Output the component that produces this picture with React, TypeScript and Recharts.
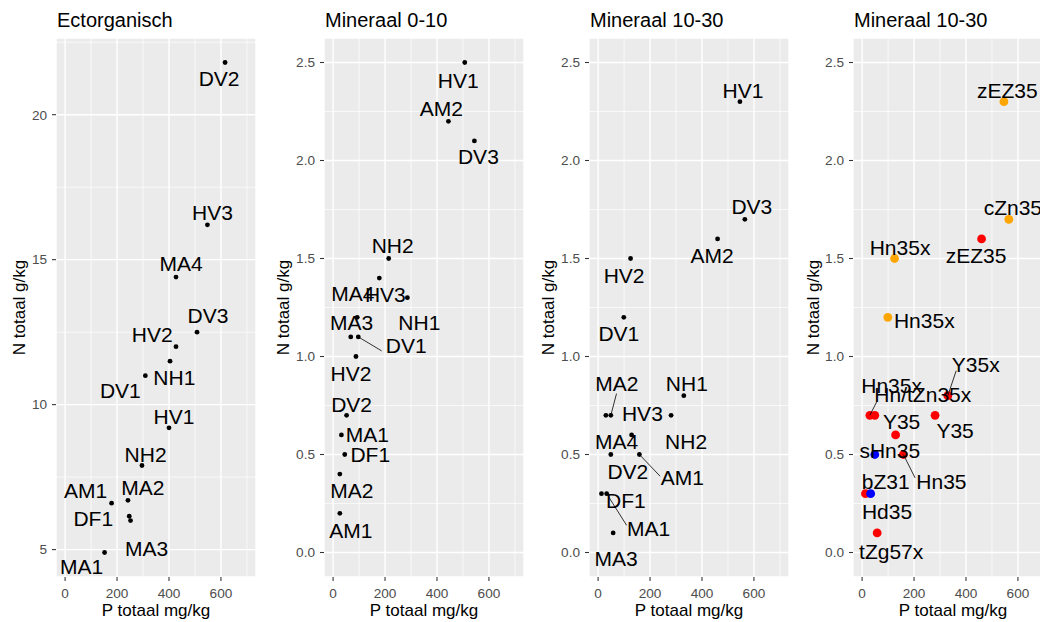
import React from 'react';
import { ScatterChart, Scatter, XAxis, YAxis, CartesianGrid, ReferenceLine } from 'recharts';

const FONT = '"Liberation Sans", Arial, sans-serif';

// Ectorganisch
const sites1 = ['DV2', 'HV3', 'MA4', 'DV3', 'HV2', 'NH1', 'DV1', 'HV1', 'NH2', 'AM1', 'MA2', 'DF1', 'MA3', 'MA1'];
const pTot1 = [616, 548, 427, 508, 427, 404, 309, 400, 296, 179, 242, 247, 252, 152];
const nTot1 = [21.8, 16.2, 14.4, 12.5, 12.0, 11.5, 11.0, 9.2, 7.9, 6.6, 6.7, 6.15, 6.0, 4.9];

// Mineraal 0-10
const sites2 = ['HV1', 'AM2', 'DV3', 'NH2', 'HV3', 'NH1', 'MA3', 'MA4', 'DV1', 'HV2', 'DV2', 'MA1', 'DF1', 'MA2', 'AM1'];
const pTot2 = [507, 444, 544, 214, 178, 286, 93, 68, 97, 88, 52, 32, 45, 26, 26];
const nTot2 = [2.5, 2.2, 2.1, 1.5, 1.4, 1.3, 1.2, 1.1, 1.1, 1.0, 0.7, 0.6, 0.5, 0.4, 0.2];

// Mineraal 10-30 (the last two panels show the same samples)
const sites3 = ['HV1', 'DV3', 'AM2', 'HV2', 'DV1', 'NH1', 'NH2', 'MA2', 'HV3', 'MA4', 'DV2', 'AM1', 'DF1', 'MA1', 'MA3'];
const pTot3 = [546, 565, 460, 125, 99, 330, 281, 49, 30, 129, 49, 159, 13, 33, 58];
const nTot3 = [2.3, 1.7, 1.6, 1.5, 1.2, 0.8, 0.7, 0.7, 0.7, 0.6, 0.5, 0.5, 0.3, 0.3, 0.1];
const soil4 = ['zEZ35', 'cZn35', 'zEZ35', 'Hn35x', 'Hn35x', 'Y35x', 'Y35', 'Hn/tZn35x', 'Hn35x', 'Y35', 'sHn35', 'Hn35', 'Hd35', 'bZ31', 'tZg57x'];
const soilGroup4 = ['orange', 'orange', 'red', 'orange', 'orange', 'red', 'red', 'red', 'red', 'red', 'blue', 'red', 'red', 'blue', 'red'];

const xTicks = [0, 200, 400, 600];
const xMinor = [100, 300, 500, 700];
const yTicks1 = [5, 10, 15, 20];
const yMinor1 = [7.5, 12.5, 17.5, 22.5];
const yTicks2 = [0, 0.5, 1, 1.5, 2, 2.5];
const yMinor2 = [0.25, 0.75, 1.25, 1.75, 2.25];

const colours = { black: '#000000', orange: '#FFA500', red: '#FF0000', blue: '#0000FF' };

// repelled label placement (px from the point), leader segments
const labelPos1 = [[-6, 16], [5, -12.5], [5, -13.5], [11, -16.5], [-23.7, -11.7], [4.3, 16], [-25, 15], [5, -11.5], [3.6, -11], [-26, -12.5], [15, -12.6], [-36, 2], [16, 28], [-23, 14]];
const labelPos2 = [[-6.5, 17.5], [-7, -13], [4, 16], [4, -13], [6, 16], [12, 25], [-5.6, 5.6], [2, -43.5], [48, 9], [-5, 16.7], [5, -10.7], [26, 0], [25.5, 0], [12, 16], [11, 17]];
const segs2 = { 8: [23.4, 14] };
const labelPos3 = [[3, -11.5], [7, -12.5], [-5.6, 17], [-6.5, 17], [-5, 16], [3, -12.5], [15, 26], [6, -31.5], [36.5, -1.5], [-15, 6.7], [17, 16.5], [43, 23], [24.5, 7], [42, 35], [3, 25.5]];
const segs3 = { 7: [5.7, -21.7], 11: [20.7, 21.7], 13: [20, 31.7] };
const labelPos4 = [[3.4, -11.5], [4, -11.5], [-5.5, 17], [5.5, -11.5], [36.5, 3], [28, -31.7], [20, 15], [48, -21], [21.7, -30], [6, -13.7], [15, -3.7], [38, 27], [21.6, 17.7], [15, -12.5], [14, 19]];
const segs4 = { 5: [8.4, -25], 8: [6.7, -13.3], 11: [11.7, 23.4] };

const expand = (vals) => {
  const lo = Math.min(...vals);
  const hi = Math.max(...vals);
  const pad = (hi - lo) * 0.05;
  return [lo - pad, hi + pad];
};

const build = (p, n, names, groups?) =>
  p.map((v, i) => ({ p: v, n: n[i], name: names[i], i, col: colours[groups ? groups[i] : 'black'] }));

const XTick = (props) => {
  const { x, y, payload } = props;
  return (
    <text x={x} y={y} dy="0.71em" textAnchor="middle" fill="#4D4D4D" fontSize={13.6} fontFamily={FONT}>
      {payload.value}
    </text>
  );
};

const makeYTick = (digits) => (props) => {
  const { x, y, payload } = props;
  return (
    <text x={x} y={y} dy="0.355em" textAnchor="end" fill="#4D4D4D" fontSize={13.6} fontFamily={FONT}>
      {payload.value.toFixed(digits)}
    </text>
  );
};

const makeDot = (r) => (props) => {
  const { cx, cy, payload } = props;
  return <circle cx={cx} cy={cy} r={r} fill={payload.col} />;
};

const makeLabel = (offsets, segs) => (props) => {
  const { cx, cy, payload } = props;
  const [dx, dy] = offsets[payload.i];
  const seg = segs[payload.i];
  return (
    <g>
      {seg && <line x1={cx} y1={cy} x2={cx + seg[0]} y2={cy + seg[1]} stroke="#000" strokeWidth={0.8} />}
      <text x={cx + dx} y={cy + dy + 7.5} textAnchor="middle" fontSize={21} fontFamily={FONT} fill="#000">
        {payload.name}
      </text>
    </g>
  );
};

const panels = [
  { left: 56, title: 'Ectorganisch', data: build(pTot1, nTot1, sites1), yDomain: expand(nTot1), yTicks: yTicks1, yMinor: yMinor1, digits: 0, offsets: labelPos1, segs: {}, r: 2.4, yGap: 31 },
  { left: 324, title: 'Mineraal 0-10', data: build(pTot2, nTot2, sites2), yDomain: [-0.125, 2.625], yTicks: yTicks2, yMinor: yMinor2, digits: 1, offsets: labelPos2, segs: segs2, r: 2.4, yGap: 35 },
  { left: 589, title: 'Mineraal 10-30', data: build(pTot3, nTot3, sites3), yDomain: [-0.125, 2.625], yTicks: yTicks2, yMinor: yMinor2, digits: 1, offsets: labelPos3, segs: segs3, r: 2.4, yGap: 35 },
  { left: 853, title: 'Mineraal 10-30', data: build(pTot3, nTot3, soil4, soilGroup4), yDomain: [-0.125, 2.625], yTicks: yTicks2, yMinor: yMinor2, digits: 1, offsets: labelPos4, segs: segs4, r: 4.4, yGap: 34 },
];

const PLOT_TOP = 38;
const PLOT_H = 539;
const PLOT_W = 200;

const Panel = ({ cfg }) => (
  <div style={{ position: 'absolute', left: cfg.left - 56, top: 0 }}>
    <ScatterChart width={56 + PLOT_W + 10} height={622} margin={{ top: PLOT_TOP, right: 10, bottom: 0, left: 0 }}>
      <CartesianGrid fill="#EBEBEB" fillOpacity={1} stroke="#FFFFFF" strokeWidth={1.4} />
      {xMinor.map((v) => (
        <ReferenceLine key={'xm' + v} x={v} stroke="#FFFFFF" strokeWidth={0.7} />
      ))}
      {cfg.yMinor.map((v) => (
        <ReferenceLine key={'ym' + v} y={v} stroke="#FFFFFF" strokeWidth={0.7} />
      ))}
      <XAxis
        type="number"
        dataKey="p"
        domain={[-35, 735]}
        ticks={xTicks}
        interval={0}
        allowDataOverflow
        height={622 - PLOT_TOP - PLOT_H}
        axisLine={false}
        tickLine={{ stroke: '#333333', strokeWidth: 1.07 }}
        tickSize={4}
        tickMargin={7}
        tick={<XTick />}
      />
      <YAxis
        type="number"
        dataKey="n"
        domain={cfg.yDomain}
        ticks={cfg.yTicks}
        interval={0}
        allowDataOverflow
        width={56}
        axisLine={false}
        tickLine={{ stroke: '#333333', strokeWidth: 1.07 }}
        tickSize={4}
        tickMargin={5}
        tick={makeYTick(cfg.digits)}
      />
      <Scatter data={cfg.data} shape={makeDot(cfg.r)} isAnimationActive={false} />
      <Scatter data={cfg.data} shape={makeLabel(cfg.offsets, cfg.segs)} isAnimationActive={false} />
    </ScatterChart>
  </div>
);

const App = () => (
  <div style={{ position: 'absolute', left: 0, top: 0, width: 1040, height: 622, overflow: 'hidden', background: '#FFFFFF' }}>
    {panels.map((cfg, k) => (
      <Panel key={k} cfg={cfg} />
    ))}
    <svg width={1040} height={622} style={{ position: 'absolute', left: 0, top: 0, pointerEvents: 'none' }} fontFamily={FONT}>
      {panels.map((cfg, k) => (
        <g key={k}>
          <text x={cfg.left + 1} y={26.7} fontSize={20} fill="#000">{cfg.title}</text>
          <text x={cfg.left + PLOT_W / 2} y={616} fontSize={17} fill="#000" textAnchor="middle">P totaal mg/kg</text>
          <text
            x={cfg.left - cfg.yGap}
            y={PLOT_TOP + PLOT_H / 2}
            fontSize={17}
            fill="#000"
            textAnchor="middle"
            transform={`rotate(-90 ${cfg.left - cfg.yGap} ${PLOT_TOP + PLOT_H / 2})`}
          >
            N totaal g/kg
          </text>
        </g>
      ))}
    </svg>
  </div>
);

export default App;
